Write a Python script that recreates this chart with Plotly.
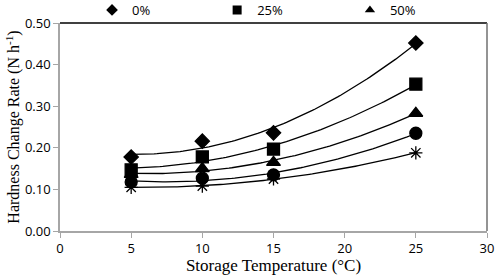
import numpy as np
import plotly.graph_objects as go

temps = [5, 10, 15, 25]
series_names = ["0%", "25%", "50%", "75%", "100%"]
v0 = [0.178, 0.216, 0.236, 0.452]
v25 = [0.147, 0.178, 0.197, 0.353]
v50 = [0.136, 0.150, 0.165, 0.283]
v75 = [0.118, 0.127, 0.135, 0.235]
v100 = [0.105, 0.108, 0.125, 0.188]
symbols = ["diamond", "square", "triangle-up", "circle", "asterisk-open"]
sizes = [11, 12, 12, 12, 11]
legend_ids = ["legend", "legend2", "legend3", None, None]
legend_x = [0.075, 0.368, 0.679]
x_ticks = [0, 5, 10, 15, 20, 25, 30]
y_ticks = [0.0, 0.1, 0.2, 0.3, 0.4, 0.5]

all_vals = [v0, v25, v50, v75, v100]

fig = go.Figure()
xs = np.linspace(min(temps), max(temps), 100)
for vals in all_vals:
    c = np.polyfit(temps, vals, 2)
    fig.add_trace(go.Scatter(x=xs, y=np.polyval(c, xs), mode="lines",
                             line=dict(color="black", width=1.3),
                             showlegend=False, hoverinfo="skip"))
for name, vals, sym, sz in zip(series_names, all_vals, symbols, sizes):
    fig.add_trace(go.Scatter(x=temps, y=vals, mode="markers", name=name,
                             marker=dict(symbol=sym, size=sz, color="black",
                                         line=dict(color="black", width=1.3)),
                             showlegend=False))
# legend entries (smaller symbols, as in the reference)
for name, sym, lid in zip(series_names, symbols, legend_ids):
    if lid is None:
        continue
    fig.add_trace(go.Scatter(x=[None], y=[None], mode="markers", name=name,
                             marker=dict(symbol=sym, size=9, color="black"),
                             legend=lid, showlegend=True))

leg_common = dict(orientation="h", y=1.0625, yanchor="middle", xanchor="left",
                  font=dict(size=13, color="black"), bgcolor="rgba(0,0,0,0)", borderwidth=0)
fig.update_layout(
    width=500, height=275,
    margin=dict(l=60, r=13, t=23, b=44, autoexpand=False),
    plot_bgcolor="white", paper_bgcolor="white",
    font=dict(family="Open Sans", size=13, color="black"),
    legend=dict(x=legend_x[0], **leg_common),
    legend2=dict(x=legend_x[1], **leg_common),
    legend3=dict(x=legend_x[2], **leg_common),
    xaxis=dict(range=[0, 30], tickvals=x_ticks, ticktext=[str(t) for t in x_ticks],
               showgrid=False, zeroline=False, showline=True, linecolor="#a6a6a6",
               linewidth=1.5, ticks="outside", tickcolor="#a6a6a6", ticklen=5,
               automargin=False,
               title=dict(text="Storage Temperature (°C)", standoff=1,
                          font=dict(family="Liberation Serif", size=17))),
    yaxis=dict(range=[0, 0.5], tickvals=y_ticks, ticktext=[f"{t:.2f}" for t in y_ticks],
               showgrid=False, zeroline=False, showline=True, linecolor="#a6a6a6",
               linewidth=1.5, ticks="outside", tickcolor="#a6a6a6", ticklen=5,
               automargin=False,
               title=dict(text="Hardness Change Rate (N h<sup>-1</sup>)", standoff=1,
                          font=dict(family="Liberation Serif", size=16))),
)
fig.add_shape(type="line", xref="paper", yref="paper", x0=0, x1=1, y0=1, y1=1,
              line=dict(color="black", width=1.5))
fig.add_shape(type="line", xref="paper", yref="paper", x0=1, x1=1, y0=0, y1=1,
              line=dict(color="#707070", width=1.5))
fig.write_html("out.html", config={"displayModeBar": False},
               post_script="document.body.style.margin='0px';document.body.style.overflow='hidden';")
